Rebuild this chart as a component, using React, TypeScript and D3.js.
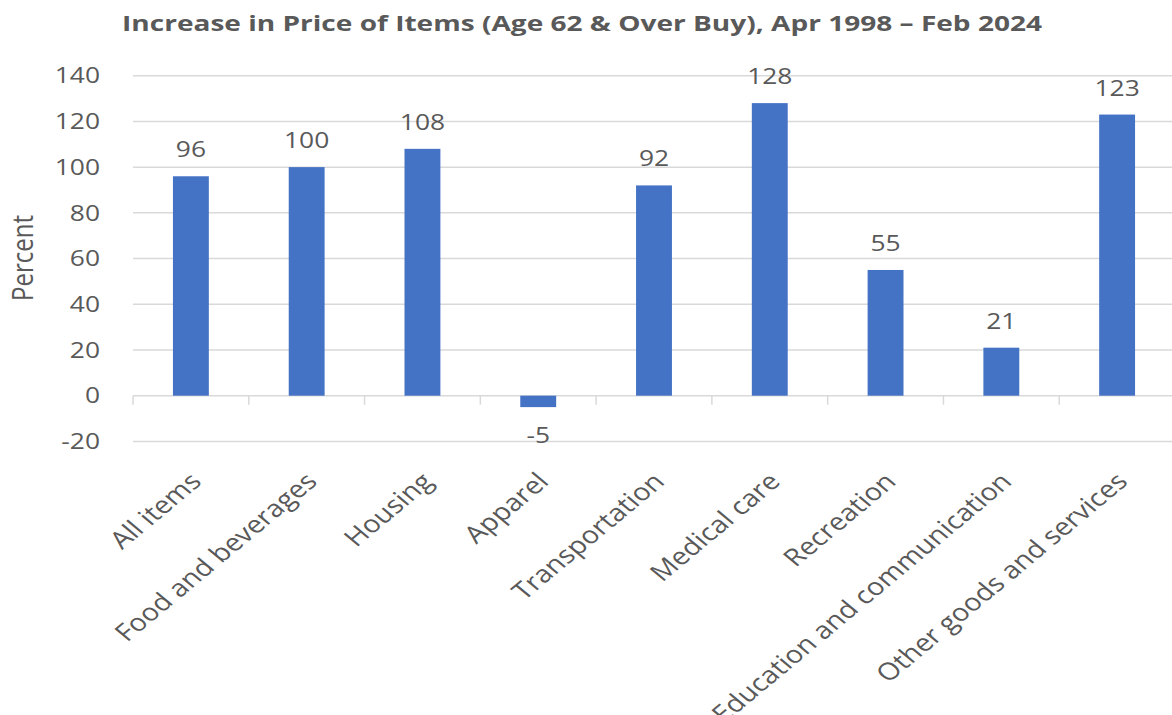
import * as d3 from 'd3';

const categories = [
  'All items',
  'Food and beverages',
  'Housing',
  'Apparel',
  'Transportation',
  'Medical care',
  'Recreation',
  'Education and communication',
  'Other goods and services',
];
const increases = [96, 100, 108, -5, 92, 128, 55, 21, 123];
const yTicks = [-20, 0, 20, 40, 60, 80, 100, 120, 140];
const title = 'Increase in Price of Items (Age 62 & Over Buy), Apr 1998 \u2013 Feb 2024';
const yAxisLabel = 'Percent';

const width = 1172;
const height = 715;
// the source picture is stretched sideways, so text gets the same stretch
const sx = 1.2;
const textColor = '#595959';
const gridColor = '#d9d9d9';
const barColor = '#4472c4';
const font = "'Open Sans', sans-serif";

const App = () => {
  const x = d3.scaleBand<string>()
    .domain(categories)
    .range([133, 1175])
    .paddingInner(0.69)
    .paddingOuter(0.345);

  const y = d3.scaleLinear()
    .domain([-20, 140])
    .range([441.4, 75.7]);

  const boundaries = d3.range(categories.length + 1).map(i => x.range()[0] + i * x.step());

  return (
    <svg width={width} height={height}
      style={{ position: 'absolute', left: 0, top: 0, background: '#fff' }}>
      <text transform={`translate(582,31) scale(${sx},1)`} textAnchor="middle"
        fontFamily={font} fontWeight="bold" fontSize={21} fill={textColor}
        textLength={920 / sx} lengthAdjust="spacingAndGlyphs">
        {title}
      </text>

      {yTicks.map(t => (
        <g key={t}>
          <line x1={133} x2={width} y1={y(t)} y2={y(t)} stroke={gridColor} strokeWidth={1.5} />
          <text transform={`translate(100,${y(t)}) scale(${sx},1)`} dy="0.35em" textAnchor="end"
            fontFamily={font} fontSize={22} fill={textColor}>{t}</text>
        </g>
      ))}

      {boundaries.map((b, i) => (
        <line key={i} x1={b} x2={b} y1={y(0)} y2={y(0) + 9} stroke={gridColor} strokeWidth={1.5} />
      ))}

      <text transform={`translate(33,258) scale(${sx},1) rotate(-90)`} textAnchor="middle"
        fontFamily={font} fontSize={24} fill={textColor}>{yAxisLabel}</text>

      {categories.map((c, i) => {
        const v = increases[i];
        const top = y(Math.max(0, v));
        const bottom = y(Math.min(0, v));
        const cx = x(c)! + x.bandwidth() / 2;
        return (
          <g key={c}>
            <rect x={x(c)} y={top} width={x.bandwidth()} height={bottom - top} fill={barColor} />
            <text transform={`translate(${cx},${v >= 0 ? top - 19 : bottom + 36}) scale(${sx},1)`}
              textAnchor="middle" fontFamily={font} fontSize={22} fill={textColor}>{v}</text>
            <text transform={`translate(${cx + 12},483) scale(${sx},1) rotate(-45)`}
              textAnchor="end" fontFamily={font} fontSize={24} fill={textColor}>{c}</text>
          </g>
        );
      })}
    </svg>
  );
};

export default App;
